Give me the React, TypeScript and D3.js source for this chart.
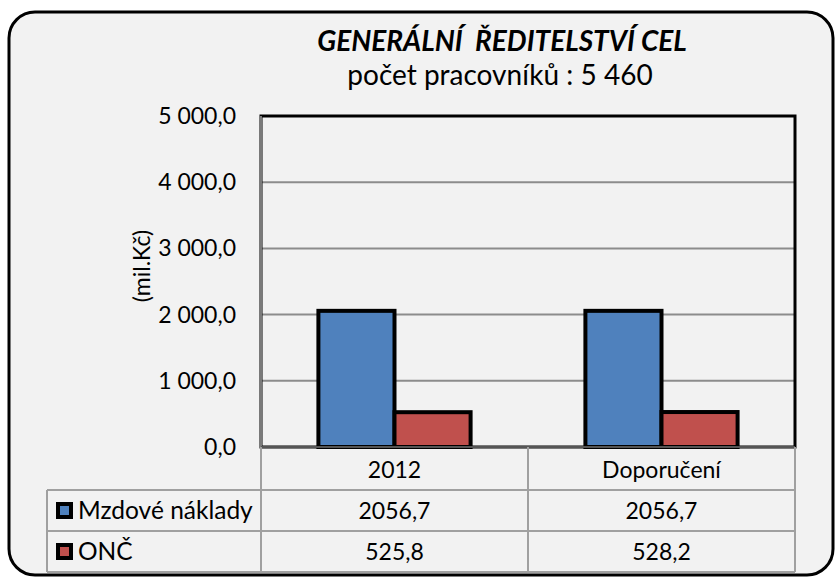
import React from 'react';
import * as d3 from 'd3';

const categories = ['2012', 'Doporučení'];
const seriesNames = ['Mzdové náklady', 'ONČ'];
const mzdoveValues = [2056.7, 2056.7];
const oncValues = [525.8, 528.2];
const seriesColors = ['#4f81bd', '#c0504d'];
const yTicks = [0, 1000, 2000, 3000, 4000, 5000];
const titleText = 'GENERÁLNÍ  ŘEDITELSTVÍ CEL';
const subtitleText = 'počet pracovníků : 5 460';
const yAxisLabel = '(mil.Kč)';

const WIDTH = 836;
const HEIGHT = 579;
const FONT = 'Lato, "Open Sans", sans-serif';

const plot = { left: 261, right: 795, top: 116, bottom: 447 };
const tableLeft = 47;
const rowHeight = 41;

const fmtTick = (v: number) => d3.format(',.1f')(v).replace(/,/g, ' ').replace('.', ',');
const fmtCell = (v: number) => v.toFixed(1).replace('.', ',');

export default function App()
{
    const seriesValues = [mzdoveValues, oncValues];

    const y = d3.scaleLinear().domain([0, 5000]).range([plot.bottom, plot.top]);
    const x = d3.scaleBand<string>()
        .domain(categories)
        .range([plot.left, plot.right])
        .paddingInner(0.43)
        .paddingOuter(0.215);
    const xInner = d3.scaleBand<string>()
        .domain(seriesNames)
        .range([0, x.bandwidth()]);

    const step = x.step();
    const colEdges = categories.map((_, i) => plot.left + i * step);
    colEdges.push(plot.right);

    const tableTop = plot.bottom + 2;

    return (
        <svg width={ WIDTH } height={ HEIGHT } style={ { position: 'absolute', left: 0, top: 0 } } fontFamily={ FONT }>
            <rect x={ 0 } y={ 0 } width={ WIDTH } height={ HEIGHT } fill="#ffffff" />
            <rect x={ 9 } y={ 12 } width={ 824 } height={ 563 } rx={ 26 } ry={ 26 }
                fill="#f2f2f2" stroke="#000" strokeWidth={ 3 } />

            <text x={ 502 } y={ 51 } textAnchor="middle" fontSize={ 28 } fontWeight="bold" fontStyle="italic" fill="#000"
                style={ { whiteSpace: 'pre' } }>
                { titleText }
            </text>
            <text x={ 500 } y={ 85 } textAnchor="middle" fontSize={ 28 } fill="#000">
                { subtitleText }
            </text>

            { yTicks.filter((t) => t > 0).map((t) => (
                <line key={ 'g' + t } x1={ plot.left } x2={ plot.right } y1={ y(t) } y2={ y(t) }
                    stroke="#8c8c8c" strokeWidth={ 2 } />
            )) }

            <rect x={ plot.left } y={ plot.top } width={ plot.right - plot.left } height={ plot.bottom - plot.top }
                fill="none" stroke="#000" strokeWidth={ 3 } />
            <line x1={ plot.left } x2={ plot.left } y1={ plot.top } y2={ plot.bottom + 2 } stroke="#7a7a7a" strokeWidth={ 2 } />

            { yTicks.map((t) => (
                <text key={ 't' + t } x={ 236 } y={ y(t) } dy="0.35em" textAnchor="end" fontSize={ 23 } fill="#000">
                    { fmtTick(t) }
                </text>
            )) }

            <text transform={ `translate(${ 150 },${ 266 }) rotate(-90)` } textAnchor="middle" fontSize={ 23 } fill="#000">
                { yAxisLabel }
            </text>

            { categories.map((c, ci) => seriesNames.map((s, si) =>
            {
                const v = seriesValues[si][ci];
                const bx = (x(c) ?? 0) + (xInner(s) ?? 0);
                return (
                    <rect key={ c + s } x={ bx } y={ y(v) } width={ xInner.bandwidth() } height={ y(0) - y(v) }
                        fill={ seriesColors[si] } stroke="#000" strokeWidth={ 4 } strokeLinejoin="miter" />
                );
            })) }

            <line x1={ plot.left } x2={ plot.right } y1={ plot.bottom } y2={ plot.bottom } stroke="#555" strokeWidth={ 2 } />

            {/* data table */ }
            <g stroke="#a0a0a0" strokeWidth={ 2 } fill="none">
                { colEdges.map((cx, i) => (
                    <line key={ 'cv' + i } x1={ cx } x2={ cx } y1={ plot.bottom } y2={ tableTop + rowHeight * 3 } />
                )) }
                <line x1={ tableLeft } x2={ tableLeft } y1={ tableTop + rowHeight } y2={ tableTop + rowHeight * 3 } />
                <line x1={ tableLeft } x2={ plot.right } y1={ tableTop + rowHeight } y2={ tableTop + rowHeight } />
                <line x1={ tableLeft } x2={ plot.right } y1={ tableTop + rowHeight * 2 } y2={ tableTop + rowHeight * 2 } />
                <line x1={ tableLeft } x2={ plot.right } y1={ tableTop + rowHeight * 3 } y2={ tableTop + rowHeight * 3 } />
            </g>

            { categories.map((c, ci) => (
                <text key={ 'h' + c } x={ (colEdges[ci] + colEdges[ci + 1]) / 2 } y={ tableTop + rowHeight / 2 } dy="0.35em"
                    textAnchor="middle" fontSize={ 23 } fill="#000">
                    { c }
                </text>
            )) }

            { seriesNames.map((s, si) =>
            {
                const rowY = tableTop + rowHeight * (si + 1);
                return (
                    <g key={ 'r' + s }>
                        <rect x={ 58 } y={ rowY + 14 } width={ 13 } height={ 13 } fill={ seriesColors[si] } stroke="#000" strokeWidth={ 4 } />
                        <text x={ 78 } y={ rowY + rowHeight / 2 } dy="0.35em" fontSize={ 24.5 } fill="#000">{ s }</text>
                        { categories.map((c, ci) => (
                            <text key={ c } x={ (colEdges[ci] + colEdges[ci + 1]) / 2 } y={ rowY + rowHeight / 2 } dy="0.35em"
                                textAnchor="middle" fontSize={ 23 } fill="#000">
                                { fmtCell(seriesValues[si][ci]) }
                            </text>
                        )) }
                    </g>
                );
            }) }
        </svg>
    );
}
